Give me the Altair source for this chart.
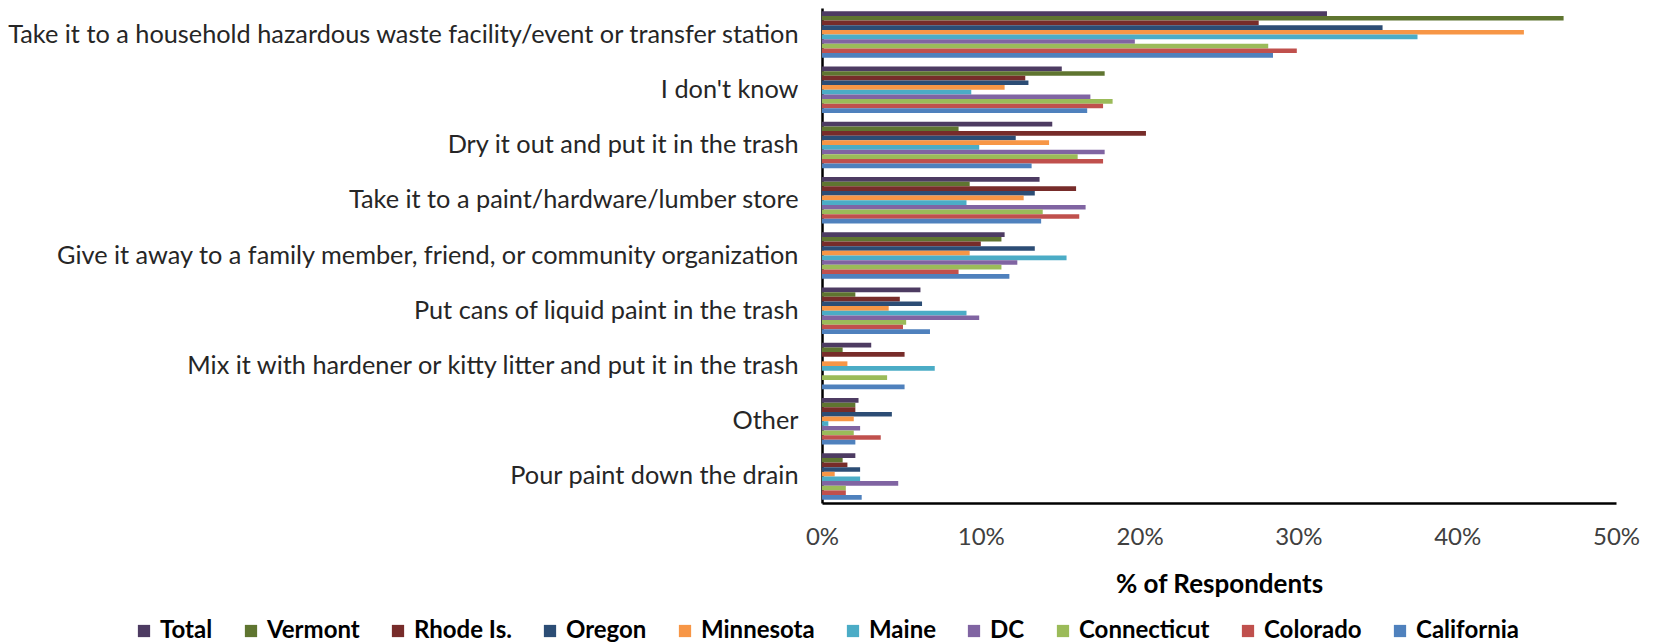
import altair as alt
import pandas as pd

categories = [
    "Take it to a household hazardous waste facility/event or transfer station",
    "I don't know",
    "Dry it out and put it in the trash",
    "Take it to a paint/hardware/lumber store",
    "Give it away to a family member, friend, or community organization",
    "Put cans of liquid paint in the trash",
    "Mix it with hardener or kitty litter and put it in the trash",
    "Other",
    "Pour paint down the drain",
]

series = ["Total", "Vermont", "Rhode Is.", "Oregon", "Minnesota", "Maine",
          "DC", "Connecticut", "Colorado", "California"]

colors = ["#4D3B62", "#5F7530", "#772C2A", "#2C4D75", "#F79646", "#4BACC6",
          "#8064A2", "#9BBB59", "#C0504D", "#4F81BD"]

total       = [31.8, 15.1, 14.5, 13.7, 11.5, 6.2, 3.1, 2.3, 2.1]
vermont     = [46.7, 17.8, 8.6, 9.3, 11.3, 2.1, 1.3, 2.1, 1.3]
rhode_is    = [27.5, 12.8, 20.4, 16.0, 10.0, 4.9, 5.2, 2.1, 1.6]
oregon      = [35.3, 13.0, 12.2, 13.4, 13.4, 6.3, 0.0, 4.4, 2.4]
minnesota   = [44.2, 11.5, 14.3, 12.7, 9.3, 4.2, 1.6, 2.0, 0.8]
maine       = [37.5, 9.4, 9.9, 9.1, 15.4, 9.1, 7.1, 0.4, 2.4]
dc          = [19.7, 16.9, 17.8, 16.6, 12.3, 9.9, 0.0, 2.4, 4.8]
connecticut = [28.1, 18.3, 16.1, 13.9, 11.3, 5.3, 4.1, 2.0, 1.5]
colorado    = [29.9, 17.7, 17.7, 16.2, 8.6, 5.1, 0.0, 3.7, 1.5]
california  = [28.4, 16.7, 13.2, 13.8, 11.8, 6.8, 5.2, 2.1, 2.5]

values = [total, vermont, rhode_is, oregon, minnesota, maine, dc,
          connecticut, colorado, california]

rows = []
for s, vals in zip(series, values):
    for c, v in zip(categories, vals):
        rows.append({"Response": c, "Series": s, "Pct": v / 100.0})
df = pd.DataFrame(rows)

chart = alt.Chart(df).mark_bar().encode(
    y=alt.Y("Response:N", sort=categories,
            scale=alt.Scale(paddingInner=0.16, paddingOuter=0.06),
            axis=alt.Axis(title=None, ticks=False, domain=True,
                          domainColor="#000000", domainWidth=2.5,
                          labelFont="Lato", labelFontSize=25.3,
                          labelColor="#262626", labelPadding=24,
                          labelLimit=900)),
    yOffset=alt.YOffset("Series:N", sort=series),
    x=alt.X("Pct:Q",
            scale=alt.Scale(domain=[0, 0.5], nice=False),
            axis=alt.Axis(format=".0%", values=[0, 0.1, 0.2, 0.3, 0.4, 0.5],
                          title="% of Respondents", grid=False, ticks=False,
                          domain=True, domainColor="#000000", domainWidth=2.5,
                          labelFlush=False,
                          labelFont="Lato", labelFontSize=24,
                          labelColor="#404040", labelPadding=22,
                          titleFont="Lato", titleFontSize=26,
                          titleFontWeight="bold", titleColor="#000000",
                          titlePadding=22)),
    color=alt.Color("Series:N", sort=series,
                    scale=alt.Scale(domain=series, range=colors),
                    legend=alt.Legend(title=None, orient="none",
                                      direction="horizontal", columns=10,
                                      legendX=-690, legendY=611,
                                      symbolType="square", symbolSize=150,
                                      symbolStrokeWidth=0,
                                      labelFont="Lato", labelFontSize=24,
                                      labelFontWeight="bold",
                                      labelColor="#000000", labelOffset=4,
                                      columnPadding=26)),
).properties(
    width=794,
    height=495,
    autosize=alt.AutoSizeParams(type="none"),
    padding={"left": 814, "top": 0, "right": 30, "bottom": 140},
).configure_view(stroke=None)

chart.save("out.html", embed_options={"renderer": "svg", "actions": False})
